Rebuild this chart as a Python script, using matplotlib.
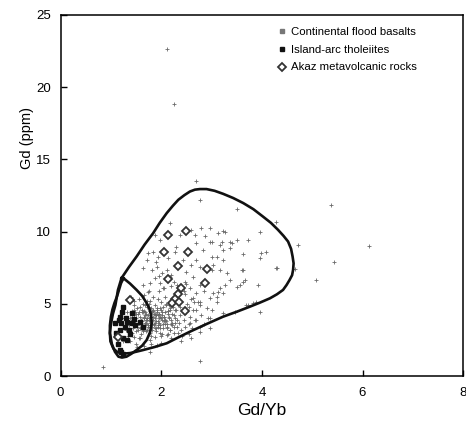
import matplotlib
matplotlib.use("Agg")
import matplotlib.pyplot as plt
from matplotlib.lines import Line2D

plt.rcParams["font.family"] = ["Liberation Sans", "DejaVu Sans"]

# Continental flood basalts (Gd/Yb, Gd ppm)
cfb_x = [
    # sparse / outer points
    2.11, 2.26, 5.37, 6.12, 5.44, 5.08, 0.85, 2.77,
    2.69, 2.77, 3.50, 3.96, 4.28, 4.72, 4.30, 4.65, 3.63, 3.99, 4.09, 3.96,
    3.23, 3.12, 3.50, 3.36, 3.16, 2.97, 2.83, 3.00, 3.23, 3.63, 3.30, 3.16,
    3.00, 3.36, 3.63, 3.50, 3.92, 3.26, 3.16, 3.23, 3.03, 3.10, 2.97, 2.77,
    3.69, 3.89, 3.73, 3.83, 3.96, 3.46, 3.23, 2.97, 2.70, 2.77, 2.63,
    3.26, 2.97, 2.80, 2.87, 2.67, 2.70, 3.00, 3.20, 3.40, 3.73, 3.36, 3.23,
    3.10, 3.03, 3.60, 4.29, 3.66, 3.56, 3.13, 2.73, 2.93, 2.77, 2.97,
    # upper-left part of the field
    2.17, 1.87, 1.97, 2.37, 2.60, 1.84, 1.74, 1.71, 1.94, 2.14, 2.27, 2.44,
    2.70, 1.64, 1.81, 1.91, 2.01, 2.11, 2.50, 2.63, 2.77, 1.64, 1.78, 1.87,
    1.97, 2.04, 2.17, 2.47, 2.57, 2.77, 2.70, 2.63, 2.77, 2.70, 2.67, 2.57,
    2.31, 2.17, 1.97, 1.87, 2.11, 1.78, 1.58, 2.34,
    1.90, 2.20, 2.50, 2.60, 2.30, 1.95, 2.45, 2.25, 1.75, 2.65, 2.85, 2.90,
    2.80, 2.55, 2.60, 2.40, 2.00, 1.80, 1.65, 2.20, 2.85, 3.00, 3.10,
    1.78, 1.91, 1.51,
    # dense core
    1.45, 1.50, 1.55, 1.60, 1.62, 1.65, 1.68, 1.70, 1.72, 1.75, 1.78, 1.80,
    1.82, 1.85, 1.88, 1.90, 1.92, 1.95, 1.98, 2.00, 2.02, 2.05, 2.08, 2.10,
    2.12, 2.15, 2.18, 2.20, 2.22, 2.25, 2.28, 2.30, 2.35, 2.38, 2.40, 2.45,
    2.50, 2.55,
    1.48, 1.52, 1.58, 1.63, 1.67, 1.73, 1.77, 1.83, 1.87, 1.93, 1.97, 2.03,
    2.07, 2.13, 2.17, 2.23, 2.27, 2.33, 2.37, 2.43, 2.47, 2.52, 2.58, 2.62,
    1.40, 1.42, 1.44, 1.46, 1.50, 1.56, 1.60, 1.66, 1.70, 1.74, 1.80, 1.84,
    1.90, 1.96, 2.00, 2.06, 2.14, 2.20, 2.26, 2.32, 2.42, 2.48, 2.56, 2.60,
    1.62, 1.66, 1.70, 1.74, 1.78, 1.82, 1.86, 1.90, 1.94, 1.98, 2.02, 2.06,
    2.10, 2.14, 1.64, 1.76, 1.88, 2.00, 1.72, 1.84, 1.96, 2.08,
    1.68, 1.79, 1.91, 2.04, 2.16, 1.71, 1.81, 1.93, 2.11, 2.21,
    1.35, 1.38, 1.42, 1.45, 1.48, 1.52, 1.55, 1.58, 1.38, 1.32, 1.36, 1.30,
    1.25, 1.40, 1.50, 1.57, 1.63, 1.45, 1.27, 1.33,
    1.41, 1.47, 1.53, 1.59, 1.65, 1.71, 1.77, 1.83, 1.89, 1.95, 2.01, 2.07,
    2.13, 2.19, 2.25, 2.31, 1.43, 1.49, 1.55, 1.61, 1.67, 1.73, 1.79, 1.85,
    1.91, 1.97, 2.03, 2.09, 2.15, 2.21, 2.27, 1.46, 1.52, 1.58, 1.64, 1.70,
    1.76, 1.82, 1.88, 1.94, 2.00, 2.06, 2.12, 2.18, 2.24, 1.54, 1.60, 1.66,
    1.72, 1.78, 1.84, 1.90, 1.96, 2.02, 2.08, 1.69, 1.75, 1.81, 1.87, 1.93,
]
cfb_y = [
    22.6, 18.8, 11.85, 9.0, 7.9, 6.65, 0.6, 1.04,
    13.53, 12.15, 11.57, 10.0, 10.69, 9.08, 7.46, 7.41, 8.43, 8.50, 8.61, 8.15,
    10.05, 9.89, 9.42, 9.31, 9.08, 9.31, 8.73, 8.27, 8.04, 7.35, 7.12, 7.35,
    7.35, 6.65, 6.54, 6.19, 6.31, 6.31, 6.08, 5.73, 5.73, 5.50, 5.38, 5.15,
    4.92, 5.15, 4.92, 5.04, 4.46, 4.46, 4.34, 4.00, 3.88, 3.07, 4.57,
    10.0, 10.24, 10.24, 9.66, 9.77, 9.20, 9.31, 9.31, 9.20, 9.42, 8.85, 8.73,
    8.27, 7.69, 7.35, 7.46, 6.65, 6.31, 5.84, 5.15, 4.00, 3.42, 3.30,
    10.58, 9.77, 9.42, 9.77, 10.12, 8.61, 8.50, 8.04, 8.27, 8.15, 8.61, 8.04,
    8.04, 7.46, 7.35, 7.58, 7.12, 7.35, 7.23, 6.88, 7.58, 6.31, 6.42, 6.77,
    6.42, 6.08, 6.88, 6.54, 6.08, 6.31, 5.73, 5.38, 4.92, 4.57, 3.88, 3.65,
    3.42, 3.19, 2.96, 2.72, 2.84, 2.49, 2.61, 2.96,
    7.9, 7.0, 6.4, 7.7, 8.9, 6.9, 5.9, 6.5, 5.9, 5.1, 5.9, 4.7,
    4.2, 4.8, 2.6, 2.4, 2.3, 2.2, 2.1, 2.6, 3.6, 4.6, 5.1,
    1.68, 2.15, 2.0,
    4.2, 4.0, 4.4, 3.9, 4.6, 4.1, 3.7, 4.3, 4.8, 3.9, 4.5, 4.1,
    3.6, 4.3, 4.9, 3.8, 4.4, 4.0, 3.5, 4.6, 4.2, 3.8, 4.4, 5.0,
    3.6, 4.1, 4.7, 3.9, 4.3, 3.4, 4.0, 4.6, 3.7, 4.2, 3.2, 3.9,
    4.4, 3.6,
    3.6, 4.7, 3.3, 5.0, 4.4, 3.4, 5.2, 3.9, 3.3, 5.3, 4.7, 3.3,
    5.5, 4.5, 3.2, 5.1, 3.7, 5.4, 4.8, 4.5, 3.4, 5.0, 4.1, 3.3,
    3.8, 4.5, 3.3, 4.9, 3.1, 5.3, 2.9, 5.6, 3.1, 5.8, 2.8, 5.5,
    3.1, 5.9, 2.8, 6.1, 2.9, 6.2, 3.0, 6.3, 2.8, 5.7, 2.9, 5.3,
    3.8, 4.0, 3.6, 4.2, 3.8, 4.4, 3.6, 4.2, 3.8, 4.1, 3.9, 4.1,
    3.8, 4.3, 4.4, 4.0, 4.0, 4.0, 3.9, 4.1, 4.3, 3.6,
    4.9, 4.7, 4.6, 4.8, 4.9, 3.2, 3.2, 3.4, 3.3, 3.5,
    3.5, 4.0, 3.0, 2.7, 4.4, 3.4, 2.6, 4.1, 2.4, 4.4, 5.2, 3.2,
    2.4, 5.5, 2.2, 3.7, 3.2, 5.2, 4.0, 2.8,
    4.1, 3.8, 4.3, 3.6, 4.5, 4.0, 3.7, 4.6, 4.2, 3.7, 4.4, 3.9,
    4.5, 3.6, 4.2, 3.9, 3.9, 4.3, 3.7, 4.4, 4.2, 3.5, 4.1, 3.5,
    4.7, 3.3, 3.6, 4.9, 4.0, 3.7, 4.6, 4.6, 3.5, 4.8, 3.1, 3.9,
    5.0, 3.4, 4.3, 3.5, 5.1, 4.1, 3.4, 4.6, 4.8, 3.2, 3.4, 4.0,
    5.2, 3.0, 4.5, 3.3, 4.3, 2.9, 3.9, 3.7, 4.8, 4.5, 3.7, 4.2,
]

# Island-arc tholeiites
iat_x = [1.25, 1.16, 1.21, 1.28, 1.18, 1.11, 1.31, 1.41, 1.58, 1.64, 1.25, 1.31,
         1.18, 1.21, 1.41, 1.35, 1.08, 1.18, 1.48, 1.24, 1.15, 1.38, 1.22, 1.30, 1.45]
iat_y = [4.80, 3.88, 3.65, 3.42, 3.19, 2.96, 3.76, 3.65, 3.76, 3.42, 2.61, 2.49,
         1.80, 1.68, 4.34, 3.19, 3.65, 4.10, 3.53, 1.55, 2.20, 2.90, 4.40, 4.05, 3.95]

# Akaz metavolcanic rocks
akaz_x = [2.13, 2.49, 2.05, 2.54, 2.34, 2.90, 2.13, 2.87, 2.39, 2.33, 2.27, 2.22,
          2.36, 2.47, 1.37, 1.14]
akaz_y = [9.77, 10.05, 8.57, 8.57, 7.65, 7.42, 6.70, 6.42, 6.08, 5.68, 5.35, 5.05,
          5.15, 4.53, 5.27, 2.72]

# field outlines
cfb_field_x = [1.21, 1.36, 1.51, 1.67, 1.84, 1.97, 2.11, 2.23, 2.34, 2.46, 2.57, 2.67,
               2.77, 2.90, 3.06, 3.23, 3.43, 3.63, 3.83, 4.02, 4.18, 4.32, 4.43, 4.52,
               4.58, 4.61, 4.63, 4.62, 4.60, 4.55, 4.49, 4.42, 4.30, 4.16, 3.96, 3.76,
               3.50, 3.23, 2.90, 2.57, 2.33, 2.11, 1.88, 1.64, 1.50, 1.38, 1.25, 1.13,
               1.05, 0.99, 0.98, 1.00, 1.04, 1.09, 1.14, 1.21]
cfb_field_y = [6.77, 7.55, 8.27, 9.10, 9.89, 10.60, 11.28, 11.78, 12.20, 12.52, 12.77, 12.90,
               12.94, 12.94, 12.82, 12.61, 12.32, 11.97, 11.55, 11.04, 10.60, 10.12, 9.70, 9.31,
               8.80, 8.27, 7.80, 7.35, 6.98, 6.65, 6.30, 5.96, 5.66, 5.38, 5.08, 4.80,
               4.45, 4.11, 3.60, 3.07, 2.66, 2.27, 2.02, 1.80, 1.68, 1.59, 1.55, 1.65,
               1.90, 2.40, 2.98, 3.60, 4.30, 4.92, 5.96, 6.77]
iat_field_x = [1.25, 1.38, 1.51, 1.62, 1.71, 1.76, 1.80, 1.81, 1.78, 1.71, 1.62, 1.51,
               1.41, 1.31, 1.22, 1.15, 1.08, 1.02, 0.98, 0.98, 1.00, 1.03, 1.07, 1.12,
               1.16, 1.20, 1.25]
iat_field_y = [6.77, 6.40, 5.96, 5.55, 5.05, 4.70, 4.20, 3.65, 3.05, 2.49, 2.10, 1.80,
               1.55, 1.34, 1.28, 1.34, 1.68, 2.20, 2.96, 3.50, 4.10, 4.60, 5.05, 5.50,
               5.95, 6.42, 6.77]


fig = plt.figure(figsize=(4.66, 4.23), dpi=100)
ax = fig.add_axes([0.13, 0.111, 0.864, 0.854])

ax.plot(cfb_x, cfb_y, linestyle="none", marker="+", markersize=2.5,
        markeredgewidth=0.6, color="#6a6a6a", zorder=2)
ax.plot(iat_x, iat_y, linestyle="none", marker="s", markersize=3.2,
        color="#111111", zorder=3)
ax.plot(cfb_field_x, cfb_field_y, color="#111111", linewidth=1.9, zorder=4,
        solid_joinstyle="round")
ax.plot(iat_field_x, iat_field_y, color="#111111", linewidth=1.9, zorder=4,
        solid_joinstyle="round")
ax.plot(akaz_x, akaz_y, linestyle="none", marker="D", markersize=4.2,
        markerfacecolor="white", markeredgecolor="#333333", markeredgewidth=1.3, zorder=5)

ax.set_xlim(0, 8)
ax.set_ylim(0, 25)
ax.set_xticks([0, 2, 4, 6, 8])
ax.set_yticks([0, 5, 10, 15, 20, 25])
ax.tick_params(direction="in", length=4, width=1.0, labelsize=9.5)
ax.tick_params(axis="x", pad=8)
ax.tick_params(axis="y", pad=7)
for sp in ax.spines.values():
    sp.set_linewidth(1.1)

ax.set_xlabel("Gd/Yb", fontsize=12.5, labelpad=3)
ax.set_ylabel("Gd (ppm)", fontsize=10.5)
ax.yaxis.set_label_coords(-0.066, 0.66)

handles = [
    Line2D([], [], linestyle="none", marker="s", markersize=2.4, color="#777777"),
    Line2D([], [], linestyle="none", marker="s", markersize=3.2, color="#111111"),
    Line2D([], [], linestyle="none", marker="D", markersize=4.4, markerfacecolor="white",
           markeredgecolor="#333333", markeredgewidth=1.3),
]
labels = ["Continental flood basalts", "Island-arc tholeiites", "Akaz metavolcanic rocks"]
ax.legend(handles, labels, loc="upper left", bbox_to_anchor=(0.525, 0.982), frameon=False,
          fontsize=8.2, handlelength=0.7, handletextpad=0.5, labelspacing=0.68, borderpad=0)

fig.savefig("out.png", dpi=100)
